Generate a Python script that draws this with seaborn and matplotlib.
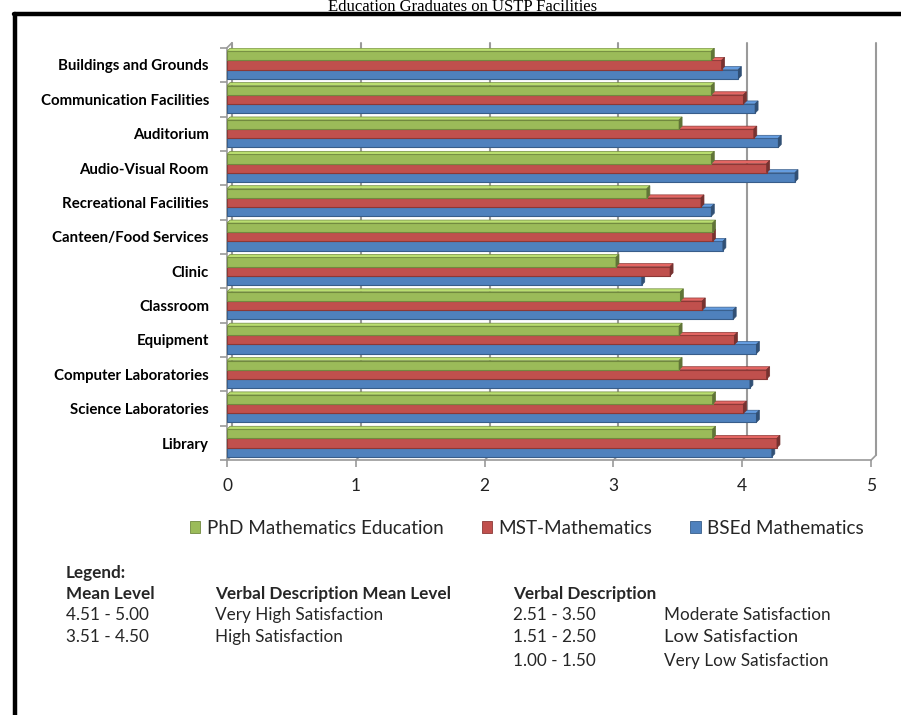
import matplotlib
matplotlib.use("Agg")
import numpy as np
import pandas as pd
import seaborn as sns
import matplotlib.pyplot as plt
from matplotlib.patches import Polygon, Patch
from matplotlib.lines import Line2D
from matplotlib import transforms
import matplotlib.colors as mcolors

# ---- data -------------------------------------------------------------
facilities = [
    "Buildings and Grounds", "Communication Facilities", "Auditorium",
    "Audio-Visual Room", "Recreational Facilities", "Canteen/Food Services",
    "Clinic", "Classroom", "Equipment", "Computer Laboratories",
    "Science Laboratories", "Library",
]
programs = ["PhD Mathematics Education", "MST-Mathematics", "BSEd Mathematics"]
phd_math_ed = [3.76, 3.76, 3.51, 3.76, 3.26, 3.77, 3.02, 3.52, 3.51, 3.51, 3.77, 3.77]
mst_math = [3.84, 4.01, 4.09, 4.19, 3.68, 3.77, 3.44, 3.69, 3.94, 4.19, 4.01, 4.27]
bsed_math = [3.97, 4.10, 4.28, 4.41, 3.76, 3.85, 3.22, 3.93, 4.11, 4.06, 4.11, 4.23]
x_ticks = [0, 1, 2, 3, 4, 5]
title = "Education Graduates on USTP Facilities"

scale_left = [("4.51 - 5.00", "Very High Satisfaction"),
              ("3.51 - 4.50", "High Satisfaction")]
scale_right = [("2.51 - 3.50", "Moderate Satisfaction"),
               ("1.51 - 2.50", "Low Satisfaction"),
               ("1.00 - 1.50", "Very Low Satisfaction")]

colors = ["#9BBB59", "#C0504D", "#4F81BD"]
edges = ["#71893F", "#8C3836", "#385D8A"]
GRID = "#9A9A9A"

df = pd.DataFrame({
    "Facility": facilities * 3,
    "Program": [p for p in programs for _ in facilities],
    "Mean": phd_math_ed + mst_math + bsed_math,
})

sns.set_theme(style="white")
plt.rcParams["font.family"] = ["Lato", "DejaVu Sans"]

W, H = 901, 715
fig = plt.figure(figsize=(W / 100, H / 100), dpi=100)
fig.patch.set_facecolor("white")


def fx(px):
    return px / W


def fy(py):
    return 1 - py / H


ax_l, ax_r, ax_t, ax_b = 227, 871, 47.8, 460.2
ax = fig.add_axes([fx(ax_l), fy(ax_b), (ax_r - ax_l) / W, (ax_b - ax_t) / H])
ax.set_facecolor("none")

sns.barplot(data=df, y="Facility", x="Mean", hue="Program", orient="h",
            hue_order=programs, order=facilities, palette=colors,
            width=0.8, ax=ax, legend=False, saturation=1)
ax.set_xlim(0, 5)
ax.set_ylim(len(facilities) - 0.5, -0.5)

# pixel sizes of one data unit, used for the 3-D depth of bars and walls
px_x = ax.bbox.width / 5.0
px_y = ax.bbox.height / len(facilities)
depth = 3.0
ddx, ddy = depth / px_x, depth / px_y

for k, cont in enumerate(ax.containers):
    z = 5 - k
    base = np.array(mcolors.to_rgb(colors[k]))
    top_col = tuple(np.clip(base * 1.12 + 0.05, 0, 1))
    side_col = tuple(base * 0.62)
    for bar in cont:
        bar.set_edgecolor(edges[k])
        bar.set_linewidth(0.8)
        bar.set_zorder(z)
        x0, y0 = bar.get_x(), bar.get_y()
        w, h = bar.get_width(), bar.get_height()
        ax.add_patch(Polygon([(x0, y0), (x0 + w, y0), (x0 + w + ddx, y0 - ddy),
                              (x0 + ddx, y0 - ddy)], closed=True,
                             facecolor=top_col, edgecolor=edges[k], lw=0.5, zorder=z))
        ax.add_patch(Polygon([(x0 + w, y0), (x0 + w + ddx, y0 - ddy),
                              (x0 + w + ddx, y0 + h - ddy), (x0 + w, y0 + h)],
                             closed=True, facecolor=side_col, edgecolor=side_col,
                             lw=0.5, zorder=z))

# back wall: gridlines shifted up and right
back = ax.transData + transforms.ScaledTranslation(5 / 100, 5 / 100, fig.dpi_scale_trans)
n = len(facilities)
for xv in x_ticks:
    ax.add_line(Line2D([xv, xv], [n - 0.5, -0.5], color=GRID, lw=1.5,
                       transform=back, zorder=0.5, clip_on=False))
# depth diagonals along the floor and at the top of the left wall
for xv, yv in [(v, n - 0.5) for v in x_ticks] + [(0, -0.5)]:
    p_front = ax.transData.transform((xv, yv))
    p_back = back.transform((xv, yv))
    ax.add_line(Line2D([p_front[0], p_back[0]], [p_front[1], p_back[1]],
                       color=GRID, lw=1.2, transform=None, zorder=0.6, clip_on=False))

for s in ["top", "right"]:
    ax.spines[s].set_visible(False)
for s in ["left", "bottom"]:
    ax.spines[s].set_color(GRID)
    ax.spines[s].set_linewidth(1.2)

ax.set_xticks(x_ticks)
ax.set_xticklabels([str(t) for t in x_ticks], fontsize=12.5, color="#222222")
ax.tick_params(axis="x", length=5, width=1.2, color=GRID, pad=8, direction="out",
               bottom=True)
ax.set_yticks(range(n))
ax.set_yticklabels(facilities, fontsize=10.8, fontweight="bold", color="black")
ax.set_yticks(np.arange(-0.5, n, 1.0), minor=True)
ax.tick_params(axis="y", which="major", length=0, pad=13)
ax.tick_params(axis="y", which="minor", length=5, width=1.2, color=GRID, left=True)
ax.set_xlabel("")
ax.set_ylabel("")
ax.grid(False)

# series key
handles = [Patch(facecolor=c, edgecolor=e, lw=0.6) for c, e in zip(colors, edges)]
fig.legend(handles, programs, loc="center", bbox_to_anchor=(fx(527), fy(528)),
           ncol=3, frameon=False, fontsize=13.6, handlelength=0.55, handleheight=0.55,
           handletextpad=0.35, columnspacing=2.0)

# title and page frame
fig.text(fx(463), fy(11), title, ha="center", va="baseline", fontsize=12,
         family="Liberation Serif", color="black")
fig.add_artist(Line2D([fx(15), fx(15)], [fy(14), 0], color="black", lw=3.2,
                      transform=fig.transFigure))
fig.add_artist(Line2D([fx(13.5), 1], [fy(14), fy(14)], color="black", lw=3.2,
                      transform=fig.transFigure))

# satisfaction scale
fs = 12.3
fig.text(fx(66), fy(573), "Legend:", fontsize=fs, fontweight="bold", va="center")
fig.text(fx(66), fy(594), "Mean Level", fontsize=fs, fontweight="bold", va="center")
fig.text(fx(215), fy(594), "Verbal Description Mean Level", fontsize=fs,
         fontweight="bold", va="center")
fig.text(fx(513), fy(594), "Verbal Description", fontsize=fs, fontweight="bold",
         va="center")
for i, (rng, desc) in enumerate(scale_left):
    yy = [615, 637][i]
    fig.text(fx(66), fy(yy), rng, fontsize=fs, va="center")
    fig.text(fx(215), fy(yy), desc, fontsize=fs, va="center")
for i, (rng, desc) in enumerate(scale_right):
    yy = [615, 637, 661][i]
    fig.text(fx(513), fy(yy), rng, fontsize=fs, va="center")
    fig.text(fx(664), fy(yy), desc, fontsize=fs + (1 if i == 1 else 0), va="center")

fig.savefig("out.png", dpi=100, facecolor="white")
